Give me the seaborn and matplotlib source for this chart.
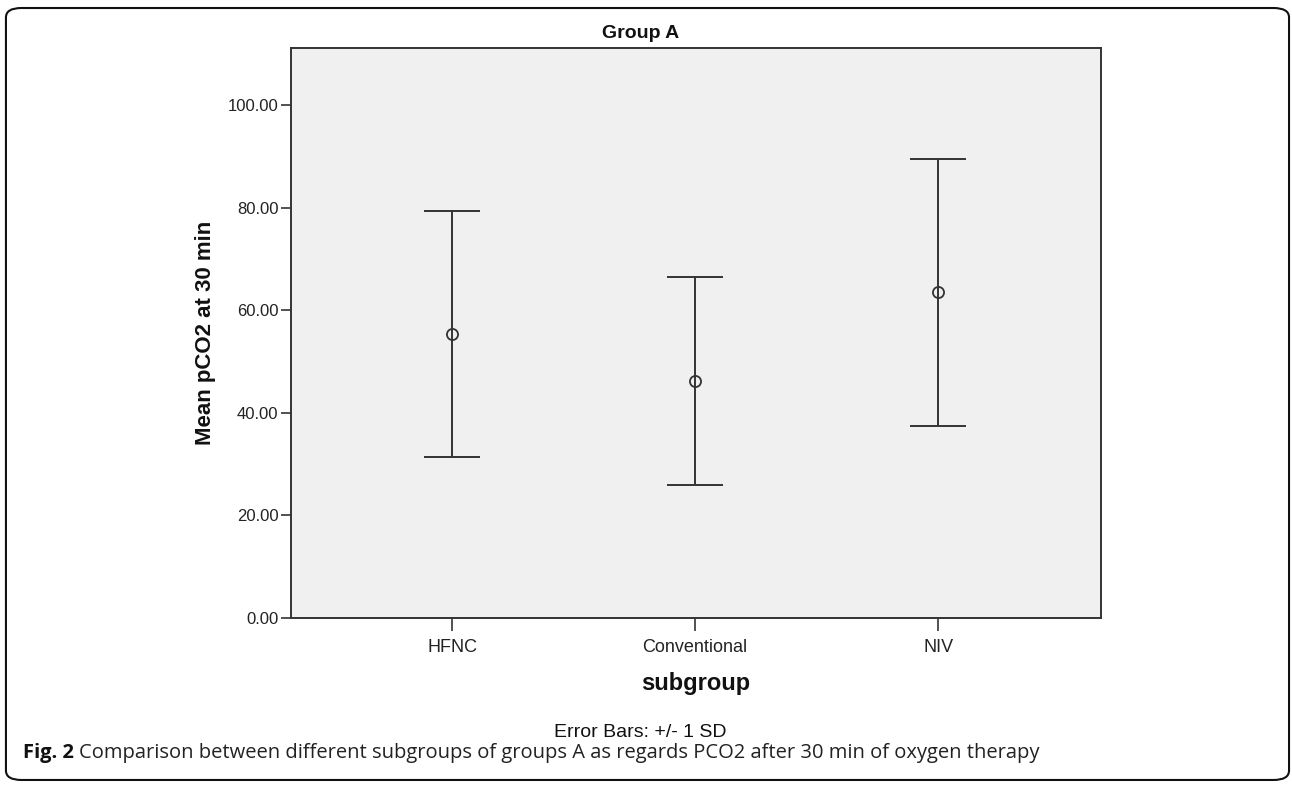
import matplotlib
matplotlib.use("Agg")
import matplotlib.pyplot as plt
from matplotlib.patches import FancyBboxPatch
from matplotlib.ticker import FormatStrFormatter
import pandas as pd
import seaborn as sns

# Data (mean +/- 1 SD)
subgroups = ["HFNC", "Conventional", "NIV"]
mean_pco2 = [55.4, 46.2, 63.5]
sd_pco2 = [24.0, 20.2, 26.0]
y_ticks = [0, 20, 40, 60, 80, 100]

df = pd.DataFrame({"subgroup": subgroups, "mean": mean_pco2, "sd": sd_pco2})

sns.set_style("ticks")
plt.rcParams["font.family"] = ["Liberation Sans", "DejaVu Sans"]

LINE = "#333333"

fig = plt.figure(figsize=(12.92, 7.85), dpi=100)
ax = fig.add_axes([0.2252, 0.2127, 0.627, 0.7262])
ax.set_facecolor("#f0f0f0")

# means as open circles
sns.pointplot(
    data=df, x="subgroup", y="mean", order=subgroups,
    linestyle="none", marker="o", color=LINE, errorbar=None,
    markerfacecolor="none", markersize=8, markeredgewidth=1.3, ax=ax
)

# +/- 1 SD bars
ax.errorbar(
    x=range(len(df)), y=df["mean"], yerr=df["sd"],
    fmt="none", ecolor=LINE, elinewidth=1.4, capsize=20.5, capthick=1.4, zorder=1
)

ax.set_xlim(-0.663, 2.67)
ax.set_ylim(0, 111.1)
ax.set_yticks(y_ticks)
ax.yaxis.set_major_formatter(FormatStrFormatter("%.2f"))

for side in ["left", "right", "top", "bottom"]:
    ax.spines[side].set_visible(True)
    ax.spines[side].set_color(LINE)
    ax.spines[side].set_linewidth(1.4)

ax.tick_params(axis="y", length=7, width=1.2, color=LINE, pad=2, labelsize=12, labelcolor="#222222")
ax.tick_params(axis="x", length=9, width=1.2, color=LINE, pad=6, labelsize=13, labelcolor="#222222")

ax.set_xlabel("subgroup", fontsize=17, fontweight="bold", color="#111111")
ax.xaxis.set_label_coords(0.5, -0.095)
ax.set_ylabel("")
fig.text(0.1587, 0.5758, "Mean pCO2 at 30 min", rotation=90, ha="center", va="center",
         fontsize=16, fontweight="bold", color="#111111")

fig.text(0.4961, 0.9567, "Group A", ha="center", va="center", fontsize=14,
         fontweight="bold", color="#111111")
fig.text(0.4954, 0.0675, "Error Bars: +/- 1 SD", ha="center", va="center",
         fontsize=14, color="#111111")

# caption
cap = fig.text(0.0178, 0.041, "Fig. 2", ha="left", va="center", fontsize=14.5,
               fontweight="bold", family=["Open Sans", "DejaVu Sans"], color="#111111")
ax.annotate(
    "Comparison between different subgroups of groups A as regards PCO2 after 30 min of oxygen therapy",
    xy=(1, 0.5), xycoords=cap, xytext=(4, 0), textcoords="offset points",
    ha="left", va="center", fontsize=14.5, family=["Open Sans", "DejaVu Sans"],
    color="#222222", annotation_clip=False
)

# rounded outer frame
frame = FancyBboxPatch(
    (0.0046, 0.0064), 0.9931, 0.9834, boxstyle="round,pad=0,rounding_size=0.012",
    transform=fig.transFigure, fill=False, edgecolor="#111111", linewidth=1.5
)
fig.patches.append(frame)

fig.savefig("out.png", dpi=100)
